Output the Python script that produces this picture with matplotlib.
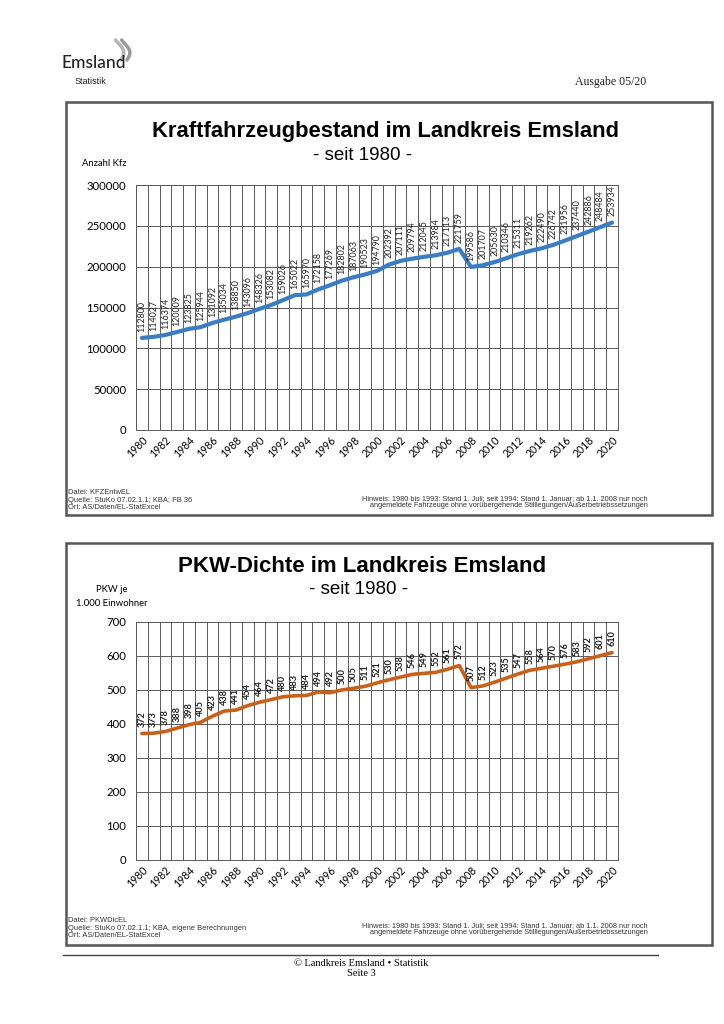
import numpy as np
import matplotlib
matplotlib.use('Agg')
import matplotlib.pyplot as plt
from matplotlib.patches import Rectangle
from matplotlib.lines import Line2D

# data
years = list(range(1980, 2021))
kfz = [112800, 114027, 116374, 120009, 123825, 125944, 131092, 135034, 138850, 143096,
       148326, 153082, 159026, 165022, 165970, 172158, 177269, 182802, 187063, 190523,
       194790, 202392, 207111, 209794, 212045, 213984, 217113, 221759, 199586, 201707,
       205630, 210346, 215311, 219262, 222490, 226742, 231956, 237440, 242886, 248484,
       253934]
pkw = [372, 373, 378, 388, 398, 405, 423, 438, 441, 454,
       464, 472, 480, 483, 484, 494, 492, 500, 505, 511,
       521, 530, 538, 546, 549, 552, 561, 572, 507, 512,
       523, 535, 547, 558, 564, 570, 576, 583, 592, 601,
       610]
tick_years = years[::2]

W, H = 724, 1024
fig = plt.figure(figsize=(W / 100, H / 100), dpi=100)
fig.patch.set_facecolor('white')


def fx(x):
    return x / W


def fy(y):
    return 1 - y / H


def panel(top, bottom, y0px, y1px, values, ymax, ystep, color, bold):
    # outer frame
    fig.patches.append(Rectangle((fx(66), fy(bottom)), fx(712) - fx(66), fy(top) - fy(bottom),
                                 transform=fig.transFigure, fill=False,
                                 edgecolor='#555555', linewidth=1.8))
    ax = fig.add_axes([fx(136), fy(y1px), fx(618) - fx(136), fy(y0px) - fy(y1px)])
    x = np.arange(len(values))
    ax.plot(x, values, color=color, linewidth=3.0 if not bold else 2.6,
            solid_capstyle='round', zorder=3)
    for i, v in enumerate(values):
        ax.annotate(str(v), (i, v), xytext=(0, 4.5), textcoords='offset points',
                    rotation=90, ha='center', va='bottom',
                    fontsize=6.6 if bold else 6.4,
                    fontweight='bold' if bold else 'normal', family='Lato',
                    color='#222222')
    ax.set_xlim(-0.5, len(values) - 0.5)
    ax.set_ylim(0, ymax)
    ax.set_yticks(np.arange(0, ymax + 1, ystep))
    ax.set_xticks([years.index(t) for t in tick_years])
    ax.set_xticklabels([str(t) for t in tick_years], rotation=45, ha='right',
                       rotation_mode='anchor', fontsize=7.6, family='Lato')
    ax.set_xticks(np.arange(-0.5, len(values), 1), minor=True)
    ax.tick_params(axis='x', which='both', length=0, pad=3)
    ax.tick_params(axis='y', length=0, labelsize=8.2, pad=7)
    for lab in ax.get_yticklabels():
        lab.set_family('Lato')
    ax.grid(axis='y', which='major', color='#5a5a5a', linewidth=0.7)
    ax.grid(axis='x', which='minor', color='#5a5a5a', linewidth=0.7)
    for s in ax.spines.values():
        s.set_color('#5a5a5a')
        s.set_linewidth(0.7)
    ax.set_axisbelow(True)
    return ax


# header
fig.text(fx(61), fy(63), 'Emsland', fontsize=12.5, family='Lato', fontweight='medium',
         color='#222222', va='center', ha='left')
t = np.linspace(0, 1, 30)
for dx, c in [(0, '#b5b5b5'), (6, '#9a9a9a')]:
    xs = 121 + dx + 4 * np.sin(t * np.pi * 1.2) - 3 * t
    ys = 60 - 20 * t
    fig.add_artist(Line2D(fx(xs), fy(ys), transform=fig.transFigure, color=c,
                          linewidth=2.5, solid_capstyle='round'))
fig.text(fx(90), fy(82), 'Statistik', fontsize=6.5, family='Liberation Sans',
         ha='center', va='center', color='#222222')
fig.text(fx(646), fy(82), 'Ausgabe 05/20', fontsize=8.5, family='Liberation Serif',
         ha='right', va='center', color='#222222')

# chart 1
panel(102, 515, 185, 430, kfz, 300000, 50000, '#3b7dc4', False)
fig.text(fx(386), fy(131), 'Kraftfahrzeugbestand im Landkreis Emsland', fontsize=15.8,
         fontweight='bold', family='Liberation Sans', ha='center', va='center')
fig.text(fx(363), fy(155), '- seit 1980 -', fontsize=13.5, family='Liberation Sans',
         ha='center', va='center')
fig.text(fx(82), fy(164), 'Anzahl Kfz', fontsize=6.8, family='Lato', ha='left', va='center')
fig.text(fx(68), fy(500), 'Datei: KFZEntwEL\nQuelle: StuKo 07.02.1.1; KBA; FB 36\nOrt: AS/Daten/EL-StatExcel',
         fontsize=5.4, family='Liberation Sans', ha='left', va='center', linespacing=1.15,
         color='#333333')
fig.text(fx(648), fy(502), 'Hinweis: 1980 bis 1993: Stand 1. Juli; seit 1994: Stand 1. Januar; ab 1.1. 2008 nur noch\n'
         'angemeldete Fahrzeuge ohne vorübergehende Stilllegungen/Außerbetriebssetzungen',
         fontsize=5.3, family='Liberation Sans', ha='right', va='center', linespacing=1.15,
         multialignment='right', color='#333333')

# chart 2
panel(543, 945, 622, 860, pkw, 700, 100, '#c8601a', True)
fig.text(fx(362), fy(567), 'PKW-Dichte im Landkreis Emsland', fontsize=16,
         fontweight='bold', family='Liberation Sans', ha='center', va='center')
fig.text(fx(359), fy(590), '- seit 1980 -', fontsize=13.5, family='Liberation Sans',
         ha='center', va='center')
fig.text(fx(112), fy(590), 'PKW je', fontsize=6.8, family='Lato', ha='center', va='center')
fig.text(fx(112), fy(604), '1.000 Einwohner', fontsize=6.8, family='Lato', ha='center', va='center')
fig.text(fx(68), fy(928), 'Datei: PKWDicEL\nQuelle: StuKo 07.02.1.1; KBA, eigene Berechnungen\nOrt: AS/Daten/EL-StatExcel',
         fontsize=5.4, family='Liberation Sans', ha='left', va='center', linespacing=1.15,
         color='#333333')
fig.text(fx(648), fy(929), 'Hinweis: 1980 bis 1993: Stand 1. Juli; seit 1994: Stand 1. Januar; ab 1.1. 2008 nur noch\n'
         'angemeldete Fahrzeuge ohne vorübergehende Stilllegungen/Außerbetriebssetzungen',
         fontsize=5.3, family='Liberation Sans', ha='right', va='center', linespacing=1.15,
         multialignment='right', color='#333333')

# footer
fig.add_artist(Line2D([fx(63), fx(658)], [fy(955), fy(955)], transform=fig.transFigure,
                      color='#444444', linewidth=1.0))
fig.text(fx(361), fy(963), '© Landkreis Emsland • Statistik', fontsize=7.5,
         family='Liberation Serif', ha='center', va='center')
fig.text(fx(361), fy(974), 'Seite 3', fontsize=7.5, family='Liberation Serif',
         ha='center', va='center')

fig.savefig('out.png', dpi=100, facecolor='white')
